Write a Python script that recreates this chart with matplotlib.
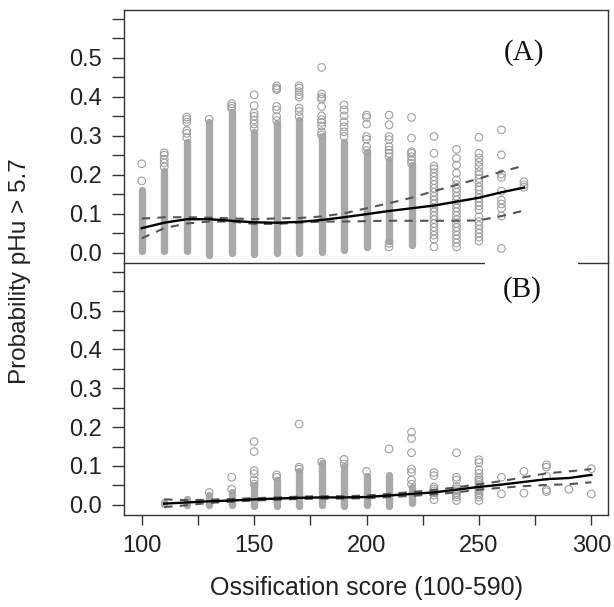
import numpy as np
import matplotlib
matplotlib.use("Agg")
import matplotlib.pyplot as plt
from matplotlib.patches import Rectangle

plt.rcParams["font.family"] = ["Liberation Sans", "DejaVu Sans"]

NAN = np.nan

# ---- panel A: probability by ossification score (dense columns + outliers)
A_score = [100, 110, 120, 130, 140, 150, 160, 170, 180, 190, 200, 210, 220, 230, 240, 250, 260, 270]
A_band_lo = [0.005, 0.005, 0.005, -0.005, 0.0, -0.002, 0.0, 0.0, 0.002, 0.007, 0.014, 0.03, 0.02,
             NAN, NAN, NAN, NAN, NAN]
A_band_hi = [0.16, 0.21, 0.285, 0.335, 0.36, 0.31, 0.332, 0.34, 0.298, 0.285, 0.259, 0.238, 0.225,
             NAN, NAN, NAN, NAN, NAN]
A_points = [
    [0.184, 0.228],
    [0.22, 0.23, 0.24, 0.25, 0.256],
    [0.295, 0.306, 0.313, 0.335, 0.342, 0.348],
    [0.342],
    [0.37, 0.376, 0.382],
    [0.318, 0.33, 0.34, 0.35, 0.358, 0.377, 0.405],
    [0.339, 0.349, 0.366, 0.375, 0.418, 0.422, 0.428],
    [0.349, 0.362, 0.371, 0.399, 0.405, 0.413, 0.422, 0.428],
    [0.302, 0.31, 0.325, 0.334, 0.341, 0.351, 0.375, 0.394, 0.399, 0.407, 0.475],
    [0.298, 0.31, 0.323, 0.336, 0.351, 0.366, 0.379],
    [0.262, 0.272, 0.291, 0.298, 0.33, 0.347, 0.353],
    [0.015, 0.024, 0.246, 0.255, 0.263, 0.272, 0.29, 0.298, 0.328, 0.353],
    [0.229, 0.237, 0.246, 0.255, 0.259, 0.294, 0.347],
    [0.015, 0.035, 0.045, 0.055, 0.065, 0.075, 0.085, 0.095, 0.105, 0.115, 0.125, 0.135,
     0.145, 0.155, 0.165, 0.175, 0.185, 0.195, 0.205, 0.215, 0.222, 0.255, 0.298],
    [0.015, 0.025, 0.035, 0.045, 0.055, 0.065, 0.075, 0.085, 0.095, 0.105, 0.115, 0.125,
     0.135, 0.145, 0.155, 0.165, 0.175, 0.187, 0.204, 0.225, 0.242, 0.265],
    [0.03, 0.04, 0.05, 0.06, 0.07, 0.08, 0.092, 0.11, 0.12, 0.13, 0.14, 0.15, 0.161, 0.169,
     0.18, 0.19, 0.2, 0.208, 0.221, 0.232, 0.243, 0.255, 0.296],
    [0.011, 0.094, 0.114, 0.125, 0.135, 0.158, 0.193, 0.202, 0.251, 0.315],
    [0.168, 0.174, 0.182],
]
A_curve_x = [100, 105, 110, 120, 130, 140, 150, 160, 170, 180, 190, 200, 210, 220, 230, 240, 250, 260, 270]
A_fit = [0.063, 0.070, 0.077, 0.086, 0.086, 0.082, 0.078, 0.077, 0.079, 0.084, 0.091, 0.099, 0.107,
         0.114, 0.121, 0.131, 0.141, 0.155, 0.167]
A_upper = [0.088, 0.089, 0.091, 0.091, 0.090, 0.088, 0.086, 0.088, 0.089, 0.093, 0.101, 0.114, 0.127,
           0.141, 0.158, 0.174, 0.190, 0.208, 0.223]
A_lower = [0.037, 0.050, 0.063, 0.075, 0.080, 0.080, 0.074, 0.074, 0.077, 0.080, 0.080, 0.081, 0.082,
           0.082, 0.082, 0.082, 0.083, 0.094, 0.108]

# ---- panel B
B_score = [110, 120, 130, 140, 150, 160, 170, 180, 190, 200, 210, 220, 230, 240, 250, 260, 270, 280, 290, 300]
B_band_lo = [0.002, 0.0, 0.0, 0.0, -0.004, -0.004, -0.003, 0.0, -0.003, 0.0, -0.003, 0.005,
             NAN, NAN, NAN, NAN, NAN, NAN, NAN, NAN]
B_band_hi = [0.008, 0.015, 0.025, 0.034, 0.05, 0.064, 0.086, 0.108, 0.099, 0.073, 0.077, 0.047,
             NAN, NAN, NAN, NAN, NAN, NAN, NAN, NAN]
B_points = [
    [],
    [],
    [0.032],
    [0.04, 0.071],
    [0.053, 0.064, 0.08, 0.088, 0.137, 0.163],
    [0.071, 0.077],
    [0.092, 0.097, 0.208],
    [0.11],
    [0.105, 0.117],
    [0.086],
    [0.144],
    [0.053, 0.064, 0.083, 0.092, 0.134, 0.171, 0.187],
    [0.013, 0.025, 0.031, 0.036, 0.041, 0.046, 0.075, 0.083],
    [0.011, 0.02, 0.026, 0.031, 0.036, 0.041, 0.047, 0.064, 0.071, 0.134],
    [0.011, 0.02, 0.026, 0.031, 0.036, 0.041, 0.046, 0.052, 0.058, 0.064, 0.069, 0.081, 0.09,
     0.109, 0.116],
    [0.028, 0.071],
    [0.03, 0.086],
    [0.034, 0.039, 0.073, 0.097, 0.103],
    [0.04],
    [0.028, 0.093],
]
B_curve_x = B_score
B_fit = [0.003, 0.006, 0.009, 0.011, 0.014, 0.016, 0.018, 0.019, 0.019, 0.020, 0.024, 0.028, 0.032,
         0.039, 0.046, 0.052, 0.059, 0.066, 0.069, 0.077]
B_upper = [0.014, 0.012, 0.013, 0.015, 0.017, 0.019, 0.021, 0.022, 0.022, 0.024, 0.028, 0.033, 0.038,
           0.045, 0.053, 0.061, 0.071, 0.081, 0.086, 0.092]
B_lower = [-0.006, -0.001, 0.005, 0.008, 0.011, 0.013, 0.015, 0.016, 0.016, 0.017, 0.020, 0.023, 0.027,
           0.032, 0.039, 0.044, 0.048, 0.051, 0.053, 0.058]

BAND_COLOR = "#a9a9a9"
RING_COLOR = "#a0a0a0"
AXIS_COLOR = "#333333"


def draw_panel(ax, scores, band_lo, band_hi, points, cx, fit, upper, lower):
    for s, lo, hi in zip(scores, band_lo, band_hi):
        if not np.isnan(lo):
            ax.plot([s, s], [lo, hi], color=BAND_COLOR, lw=5.3, solid_capstyle="round", zorder=2)
    for s, vals in zip(scores, points):
        if vals:
            ax.scatter([s] * len(vals), vals, s=30, facecolors="none",
                       edgecolors=RING_COLOR, linewidths=0.8, zorder=3)
    dash = (0, (4, 3.5))
    ax.plot(cx, upper, color="#555555", lw=1.5, linestyle=dash, zorder=4)
    ax.plot(cx, lower, color="#555555", lw=1.5, linestyle=dash, zorder=4)
    ax.plot(cx, fit, color="black", lw=1.7, zorder=5)

    ax.set_xlim(92.1, 307.4)
    ax.set_ylim(-0.0255, 0.6235)
    yt = np.arange(0, 0.65, 0.05)
    ax.set_yticks(yt)
    ax.set_yticklabels([f"{v:.1f}" if (i % 2 == 0 and v < 0.55) else "" for i, v in enumerate(yt)])
    ax.tick_params(axis="y", direction="out", length=8.5, width=1, pad=7.5,
                   labelsize=17, color=AXIS_COLOR, labelcolor="#222222")
    ax.set_facecolor("none")
    for sp in ax.spines.values():
        sp.set_color(AXIS_COLOR)
        sp.set_linewidth(1.0)


fig = plt.figure(figsize=(6.14, 6.07), dpi=100)
W, H = 614.0, 607.0
axA = fig.add_axes([124 / W, 1 - 262.7 / H, 484 / W, (262.7 - 9.5) / H])
axB = fig.add_axes([124 / W, 1 - 514.7 / H, 484 / W, (514.7 - 262.7) / H])

draw_panel(axA, A_score, A_band_lo, A_band_hi, A_points, A_curve_x, A_fit, A_upper, A_lower)
draw_panel(axB, B_score, B_band_lo, B_band_hi, B_points, B_curve_x, B_fit, B_upper, B_lower)

axA.tick_params(axis="x", bottom=False, labelbottom=False)
axB.spines["top"].set_visible(False)
xt = np.arange(100, 301, 25)
axB.set_xticks(xt)
axB.set_xticklabels([str(v) if v % 50 == 0 else "" for v in xt])
axB.tick_params(axis="x", direction="out", length=7.5, width=1, pad=7,
                labelsize=17, color=AXIS_COLOR, labelcolor="#222222")

fig.text(524 / W, 1 - 53 / H, "(A)", family="Liberation Serif", fontsize=21,
         ha="center", va="center", color="#111111")
fig.text(522 / W, 1 - 290 / H, "(B)", family="Liberation Serif", fontsize=21,
         ha="center", va="center", color="#111111")

fig.text(366 / W, 1 - 588 / H, "Ossification score (100-590)", fontsize=18,
         ha="center", va="center", color="#222222")
fig.text(20 / W, 1 - 271 / H, "Probability pHu > 5.7", fontsize=17.5, rotation=90,
         ha="center", va="center", color="#222222")

# gap in the shared border line
fig.patches.append(Rectangle((485 / W, 1 - 266 / H), (578 - 485) / W, 7 / H,
                             transform=fig.transFigure, facecolor="white",
                             edgecolor="none", zorder=10))

fig.savefig("out.png", dpi=100)
